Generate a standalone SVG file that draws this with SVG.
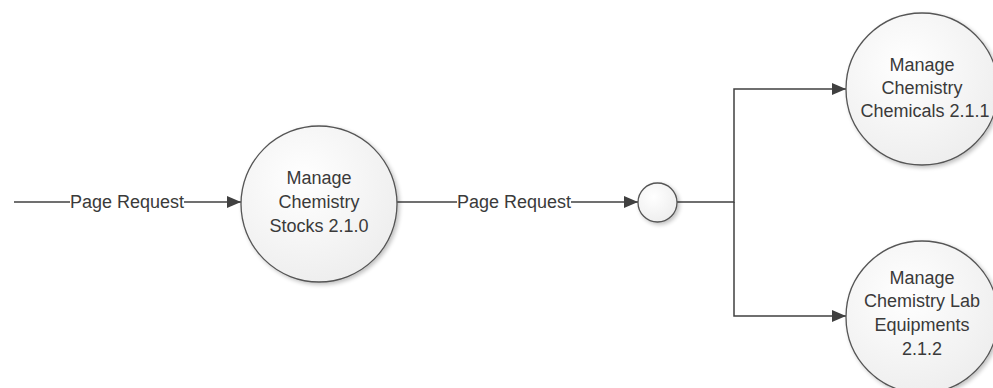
<svg xmlns="http://www.w3.org/2000/svg" width="993" height="388" viewBox="0 0 993 388">
  <defs>
    <radialGradient id="bubbleFill" cx="40%" cy="35%" r="75%">
      <stop offset="0" stop-color="#ffffff"/>
      <stop offset="1" stop-color="#ececec"/>
    </radialGradient>
    <filter id="shade" x="-20%" y="-20%" width="150%" height="150%">
      <feGaussianBlur in="SourceAlpha" stdDeviation="2"/>
      <feOffset dx="2" dy="2" result="b"/>
      <feComponentTransfer><feFuncA type="linear" slope="0.25"/></feComponentTransfer>
      <feMerge><feMergeNode/><feMergeNode in="SourceGraphic"/></feMerge>
    </filter>
    <marker id="arrow" viewBox="0 0 14 12" refX="14" refY="6" markerWidth="14" markerHeight="12" markerUnits="userSpaceOnUse" orient="auto">
      <path d="M0,0 L14,6 L0,12 Z" fill="#404040"/>
    </marker>
  </defs>
  <style>
    .bubble { fill: url(#bubbleFill); stroke: #555555; stroke-width: 1.3; filter: url(#shade); }
    .flow { fill: none; stroke: #404040; stroke-width: 1.5; }
    .label { font-family: "Liberation Sans", Arial, sans-serif; font-size: 18px; fill: #3a3a3a; text-anchor: middle; }
    .lbg { fill: #ffffff; }
  </style>

  <rect width="993" height="388" fill="#ffffff"/>

  <g id="connectors">
    <line class="flow" x1="14" y1="202" x2="241" y2="202" marker-end="url(#arrow)"/>
    <rect class="lbg" x="70" y="190" width="114" height="24"/>
    <text class="label" x="127" y="208" textLength="114" lengthAdjust="spacingAndGlyphs">Page Request</text>

    <line class="flow" x1="397" y1="202" x2="638" y2="202" marker-end="url(#arrow)"/>
    <rect class="lbg" x="457" y="190" width="114" height="24"/>
    <text class="label" x="514" y="208" textLength="114" lengthAdjust="spacingAndGlyphs">Page Request</text>

    <polyline class="flow" points="677,202 734,202 734,89 846,89" marker-end="url(#arrow)"/>
    <polyline class="flow" points="734,202 734,316 846,316" marker-end="url(#arrow)"/>
  </g>

  <g id="stocks">
    <circle class="bubble" cx="319" cy="204" r="78"/>
    <text class="label" x="319" y="184">Manage</text>
    <text class="label" x="319" y="208">Chemistry</text>
    <text class="label" x="319" y="232">Stocks 2.1.0</text>
  </g>

  <g id="junction">
    <circle class="bubble" cx="657.5" cy="202.5" r="19.5"/>
  </g>

  <g id="chemicals">
    <circle class="bubble" cx="922" cy="89" r="76"/>
    <text class="label" x="922" y="71">Manage</text>
    <text class="label" x="922" y="94">Chemistry</text>
    <text class="label" x="925" y="117">Chemicals 2.1.1</text>
  </g>

  <g id="equipments">
    <circle class="bubble" cx="922" cy="317" r="76"/>
    <text class="label" x="922" y="284">Manage</text>
    <text class="label" x="922" y="307">Chemistry Lab</text>
    <text class="label" x="922" y="331">Equipments</text>
    <text class="label" x="922" y="355">2.1.2</text>
  </g>
</svg>
